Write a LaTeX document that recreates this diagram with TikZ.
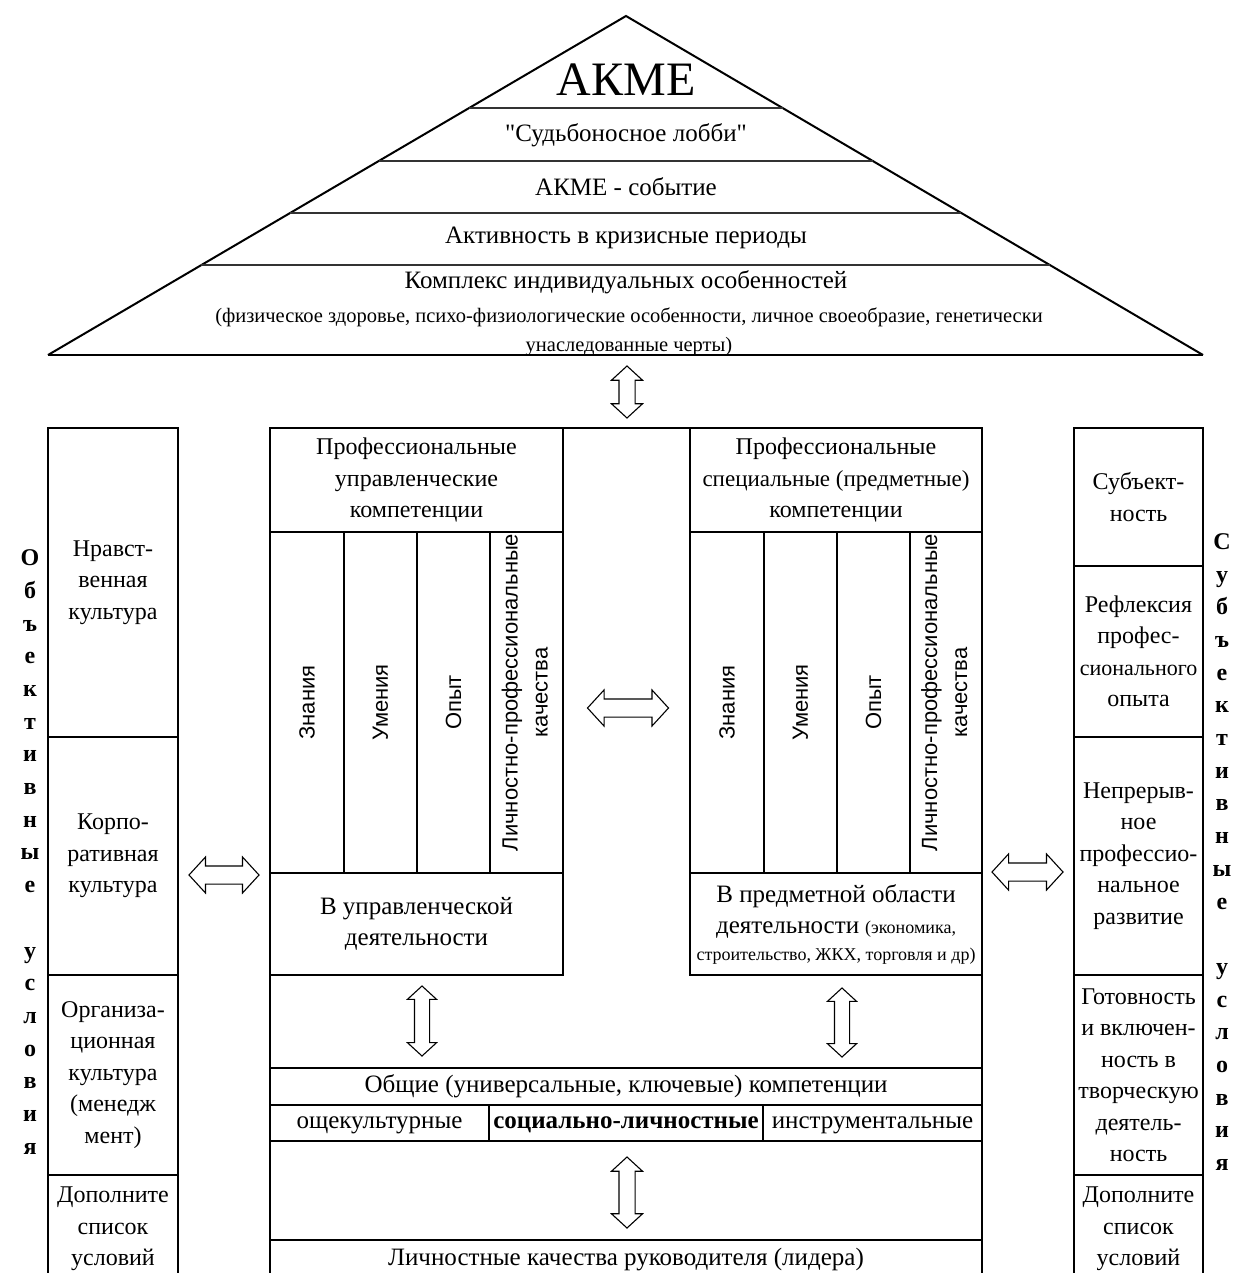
\documentclass[tikz,border=0pt]{standalone}
\usepackage{fontspec}
\setmainfont{Liberation Serif}[Ligatures=TeXOff]
\newfontfamily\sansf{Liberation Sans}
\usetikzlibrary{positioning,calc,shapes.arrows}
\newcommand{\cellfont}{\fontsize{24}{31.5}\selectfont}
\newcommand{\widefont}{\fontsize{25}{31.5}\selectfont}
\newcommand{\notefont}{\fontsize{20.5}{29}\selectfont}
\newcommand{\branchfont}{\fontsize{18}{22}\selectfont}
\newcommand{\akmefont}{\fontsize{48}{54}\selectfont}
\newcommand{\stickfont}{\sansf\fontsize{22}{30}\selectfont}
\newcommand{\letterfont}{\bfseries\fontsize{24}{32.7}\selectfont}
\tikzstyle{cell} = [draw, rectangle, line width=1.3pt, inner sep=2pt, outer sep=0pt, align=center, font=\cellfont]
\tikzstyle{row} = [cell, font=\widefont, text height=16pt, text depth=5pt]
\tikzstyle{frame} = [line width=2.8pt]
\tikzstyle{layer} = [line width=1.5pt, black!80]
\tikzstyle{letters} = [align=center, font=\letterfont, inner sep=0pt]
\tikzstyle{dblarrow} = [draw, double arrow, line width=1.1pt, double arrow head extend=9pt, double arrow tip angle=95, inner xsep=0pt, inner ysep=8.5pt]
\tikzstyle{dblarrowv} = [dblarrow, rotate=90, double arrow head extend=7.5pt, inner ysep=7.5pt]

\begin{document}
\begin{tikzpicture}[x=1pt, y=-1pt]
\useasboundingbox (0,0) rectangle (1233,1273);
\coordinate (bottom) at (0,1292);

% roof
\coordinate (apex) at (626,16);
\coordinate (roofL) at (48,355);
\coordinate (roofR) at (1203,355);
\draw[line width=2pt] (roofL) -- (apex) -- (roofR);
\draw[frame] (roofL) -- (roofR);
\draw[layer] ($(roofL)!0.7286!(apex)$) -- ($(roofR)!0.7286!(apex)$);
\draw[layer] ($(roofL)!0.5723!(apex)$) -- ($(roofR)!0.5723!(apex)$);
\draw[layer] ($(roofL)!0.4189!(apex)$) -- ($(roofR)!0.4189!(apex)$);
\draw[layer] ($(roofL)!0.2655!(apex)$) -- ($(roofR)!0.2655!(apex)$);

\node [font=\akmefont] (akme) at (626,80) {АКМЕ};
\node [font=\widefont] (lobby) at (626,135) {"Судьбоносное лобби"};
\node [font=\widefont] (event) at (626,187) {АКМЕ - событие};
\node [font=\widefont] (crisis) at (626,238) {Активность в кризисные периоды};
\node [font=\widefont] (complex) at (626,282) {Комплекс индивидуальных особенностей};
\node [font=\notefont, align=center] (traits) at (629,332) {(физическое здоровье, психо-физиологические особенности, личное своеобразие, генетически\\унаследованные черты)};

\node [dblarrowv, minimum height=52pt] (arrTop) at (627,392) {};

% left column
\node [cell, minimum width=130pt, minimum height=309pt] (nrav) at (113,582.5) {Нравст-\\венная\\культура};
\node [cell, minimum width=130pt, minimum height=238pt, below=0pt of nrav] (korp) {Корпо-\\ративная\\культура};
\node [cell, minimum width=130pt, minimum height=200pt, below=0pt of korp] (org) {Организа-\\ционная\\культура\\(менедж\\мент)};
\node [cell, draw=none, below=10pt of org] (dopL) {Дополните\\список\\условий};
\draw [frame] (nrav.west |- bottom) -- (nrav.north west) -- (nrav.north east) -- (nrav.east |- bottom);

\node [letters] (objUsl) at (30,852) {О\\б\\ъ\\е\\к\\т\\и\\в\\н\\ы\\е\\[32.7pt]у\\с\\л\\о\\в\\и\\я};

% right column
\node [cell, minimum width=129pt, minimum height=138pt] (subj) at (1138.5,497) {Субъект-\\ность};
\node [cell, minimum width=129pt, minimum height=171pt, below=0pt of subj, inner xsep=0pt] (refl) {Рефлексия\\профес-\\{\fontsize{22}{31.5}\selectfont сионального}\\опыта};
\node [cell, minimum width=129pt, minimum height=238pt, below=0pt of refl] (nepr) {Непрерыв-\\ное\\профессио-\\нальное\\развитие};
\node [cell, minimum width=129pt, minimum height=200pt, below=0pt of nepr, inner xsep=0pt] (gotov) {Готовность\\и включен-\\ность в\\творческую\\деятель-\\ность};
\node [cell, draw=none, below=10pt of gotov] (dopR) {Дополните\\список\\условий};
\draw [frame] (subj.west |- bottom) -- (subj.north west) -- (subj.north east) -- (subj.east |- bottom);

\node [letters] (subUsl) at (1222,852) {С\\у\\б\\ъ\\е\\к\\т\\и\\в\\н\\ы\\е\\[32.7pt]у\\с\\л\\о\\в\\и\\я};

% managerial competences
\node [cell, minimum width=293pt, minimum height=104pt] (upr) at (416.5,480) {Профессиональные\\управленческие\\компетенции};
\node [cell, minimum width=74pt, minimum height=341pt, below right=0pt of upr.south west] (znL) {\rotatebox{90}{\stickfont Знания}};
\node [cell, minimum width=73pt, minimum height=341pt, right=0pt of znL] (umL) {\rotatebox{90}{\stickfont Умения}};
\node [cell, minimum width=73pt, minimum height=341pt, right=0pt of umL] (opL) {\rotatebox{90}{\stickfont Опыт}};
\node [cell, minimum width=73pt, minimum height=341pt, right=0pt of opL] (lpL) {\raisebox{10pt}[\height][\depth]{\rotatebox{90}{\stickfont\begin{tabular}{@{}c@{}}Личностно-профессиональные\\качества\end{tabular}}}};
\node [cell, minimum width=293pt, minimum height=102pt, below right=0pt of znL.south west, font=\widefont] (vupr) {В управленческой\\деятельности};

% subject competences
\node [cell, minimum width=292pt, minimum height=104pt, inner xsep=0pt] (spec) at (836,480) {Профессиональные\\{\fontsize{23}{31.5}\selectfont специальные (предметные)}\\компетенции};
\node [cell, minimum width=74pt, minimum height=341pt, below right=0pt of spec.south west] (znR) {\rotatebox{90}{\stickfont Знания}};
\node [cell, minimum width=73pt, minimum height=341pt, right=0pt of znR] (umR) {\rotatebox{90}{\stickfont Умения}};
\node [cell, minimum width=73pt, minimum height=341pt, right=0pt of umR] (opR) {\rotatebox{90}{\stickfont Опыт}};
\node [cell, minimum width=72pt, minimum height=341pt, right=0pt of opR] (lpR) {\raisebox{10pt}[\height][\depth]{\rotatebox{90}{\stickfont\begin{tabular}{@{}c@{}}Личностно-профессиональные\\качества\end{tabular}}}};
\node [cell, minimum width=292pt, minimum height=102pt, below right=0pt of znR.south west, inner xsep=0pt] (vpred) {{\widefont В предметной области}\\{\widefont деятельности} {\branchfont(экономика,}\\[-5pt]{\branchfont строительство, ЖКХ, торговля и др)}};

% general competences
\node [row, minimum width=712pt, minimum height=37pt, below right=93pt and 0pt of vupr.south west] (obsh) {Общие (универсальные, ключевые) компетенции};
\node [row, minimum width=219pt, minimum height=36pt, below right=0pt of obsh.south west] (oshk) {ощекультурные};
\node [row, minimum width=274pt, minimum height=36pt, right=0pt of oshk] (socl) {\bfseries социально-личностные};
\node [row, minimum width=219pt, minimum height=36pt, right=0pt of socl] (instr) {инструментальные};
\node [row, minimum width=712pt, minimum height=40pt, below right=99pt and 0pt of oshk.south west] (lich) {Личностные качества руководителя (лидера)};

% heavy outlines
\draw [frame] (upr.west |- bottom) -- (upr.north west) -- (spec.north east) -- (spec.east |- bottom);
\draw [line width=2pt] (upr.north east) -- (vupr.south east);
\draw [line width=2pt] (spec.north west) -- (vpred.south west);
\draw [frame] (vupr.north west) -- (vupr.north east);
\draw [frame] (vpred.north west) -- (vpred.north east);
\draw [frame] (oshk.north west) -- (instr.north east);

% links
\node [dblarrow, minimum height=81pt] (arrMid) at (628,708) {};
\node [dblarrow, minimum height=70pt] (arrL) at (224,875) {};
\node [dblarrow, minimum height=71pt] (arrR) at (1027.5,872) {};
\node [dblarrowv, minimum height=70pt, double arrow head extend=7pt, inner ysep=7pt] (arrUpr) at (422,1021) {};
\node [dblarrowv, minimum height=69pt, double arrow head extend=7pt, inner ysep=7pt] (arrPred) at (842,1022.5) {};
\node [dblarrowv, minimum height=71pt] (arrLich) at (627,1192.5) {};
\end{tikzpicture}
\end{document}
